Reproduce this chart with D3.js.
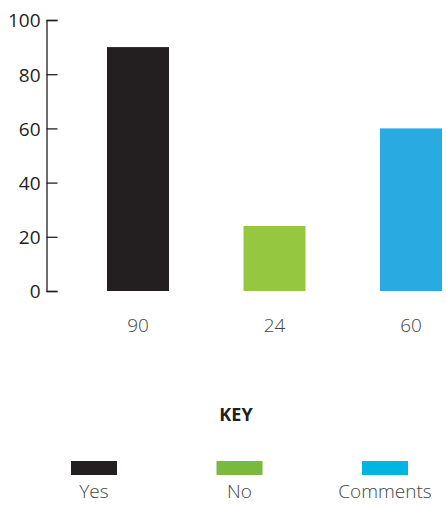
<!DOCTYPE html>
<html>
<head>
<meta charset="utf-8">
<script src="https://cdn.jsdelivr.net/npm/d3@7"></script>
<style>
  body { margin: 0; background: #fff; }
  svg text { font-family: "Open Sans", sans-serif; }
</style>
</head>
<body>
<div id="chart"></div>
<script>
var categories = ["Yes", "No", "Comments"];
var values = [90, 24, 60];
var barColors = ["#231f20", "#95c840", "#29abe2"];
var keyColors = ["#231f20", "#7ab83e", "#00b5e0"];
var yTicks = [0, 20, 40, 60, 80, 100];

var width = 446,
    height = 505;

var svg = d3.select('#chart')
    .append('svg')
    .attr('width', width)
    .attr('height', height);

var y = d3.scaleLinear().domain([0, 100]).range([291, 20]);
var x = d3.scaleBand().domain(categories).range([107, 442]).paddingInner(0.5458).paddingOuter(0);

// y axis, ticks pointing right
var axis = svg.append('g')
    .attr('transform', 'translate(46.5,0)')
    .call(d3.axisRight(y).tickValues(yTicks).tickSize(11).tickFormat(''));
axis.select('.domain').attr('stroke', '#231f20').attr('stroke-width', 1.3);
axis.selectAll('.tick line').attr('stroke', '#231f20').attr('stroke-width', 1.3);
axis.selectAll('.tick').append('text')
    .attr('x', -6)
    .attr('dy', '0.36em')
    .attr('text-anchor', 'end')
    .attr('fill', '#231f20')
    .style('font-size', '19px')
    .text(function(d) { return d; });

// bars
svg.selectAll('rect.bar')
    .data(values)
    .enter().append('rect')
    .attr('class', 'bar')
    .attr('x', function(d, i) { return x(categories[i]); })
    .attr('width', x.bandwidth())
    .attr('y', function(d) { return y(d); })
    .attr('height', function(d) { return y(0) - y(d); })
    .attr('fill', function(d, i) { return barColors[i]; });

// value labels
svg.selectAll('text.val')
    .data(values)
    .enter().append('text')
    .attr('class', 'val')
    .attr('x', function(d, i) { return x(categories[i]) + x.bandwidth() / 2; })
    .attr('y', 332)
    .attr('text-anchor', 'middle')
    .attr('fill', '#444')
    .style('font-size', '19px')
    .style('font-weight', 300)
    .text(function(d) { return d; });

// key
svg.append('text')
    .attr('x', 236)
    .attr('y', 421)
    .attr('text-anchor', 'middle')
    .attr('fill', '#231f20')
    .style('font-size', '18px')
    .style('font-weight', 700)
    .text('KEY');

var keyX = d3.scalePoint().domain(categories).range([94, 385]);

svg.selectAll('rect.key')
    .data(categories)
    .enter().append('rect')
    .attr('class', 'key')
    .attr('x', function(d) { return keyX(d) - 23; })
    .attr('y', 461)
    .attr('width', 46)
    .attr('height', 14)
    .attr('fill', function(d, i) { return keyColors[i]; });

svg.selectAll('text.key')
    .data(categories)
    .enter().append('text')
    .attr('class', 'key')
    .attr('x', function(d) { return keyX(d); })
    .attr('y', 498)
    .attr('text-anchor', 'middle')
    .attr('fill', '#444')
    .style('font-size', '19px')
    .style('font-weight', 300)
    .text(function(d) { return d; });
</script>
</body>
</html>
